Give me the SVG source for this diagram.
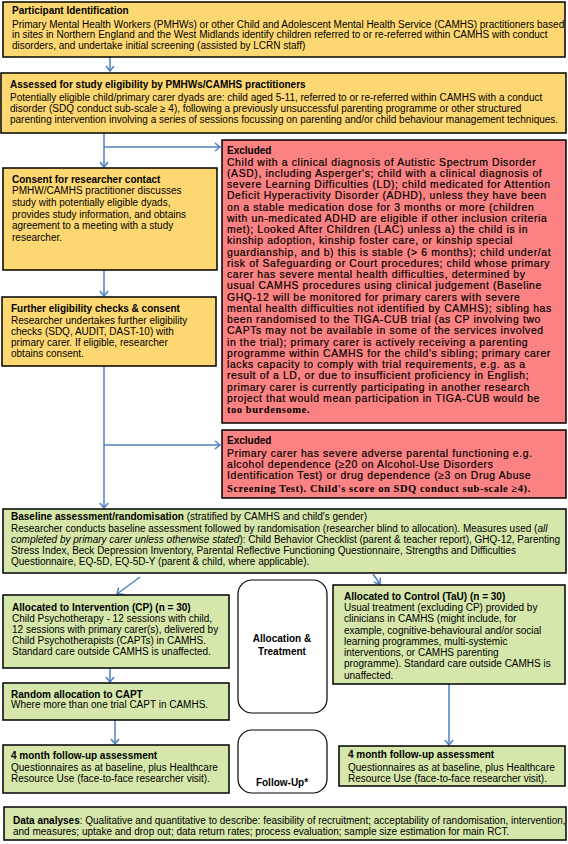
<svg xmlns="http://www.w3.org/2000/svg" width="568" height="844" viewBox="0 0 568 844">
<defs>
<style>
.y{fill:#FDD872;stroke:#000;stroke-width:1.5}
.r{fill:#FA8282;stroke:#000;stroke-width:1.5}
.g{fill:#D5E7AA;stroke:#000;stroke-width:1.5}
.w{fill:#fff;stroke:#000;stroke-width:1.2}
text{font-family:"Liberation Sans",Arial,sans-serif;font-size:10px;fill:#000}
.b{font-weight:bold}
.ex{font-size:10.4px;letter-spacing:0.62px;stroke:#000;stroke-width:0.2}
.sf{font-family:"Liberation Serif","Times New Roman",serif;font-weight:bold;font-size:10.5px;letter-spacing:0.55px}
.c{stroke:#4F81BD;stroke-width:1.5;fill:none}
</style>
<marker id="ah" markerUnits="userSpaceOnUse" markerWidth="10" markerHeight="10" refX="6" refY="5" orient="auto">
<path d="M1,1 L6,5 L1,9" fill="none" stroke="#4F81BD" stroke-width="1.5"/>
</marker>
</defs>

<g id="connectors">
<line class="c" x1="110" y1="57" x2="110" y2="71" marker-end="url(#ah)"/>
<line class="c" x1="104" y1="133" x2="104" y2="167" marker-end="url(#ah)"/>
<line class="c" x1="104" y1="147" x2="220" y2="147" marker-end="url(#ah)"/>
<line class="c" x1="104" y1="270" x2="104" y2="296" marker-end="url(#ah)"/>
<line class="c" x1="104" y1="366" x2="104" y2="508" marker-end="url(#ah)"/>
<line class="c" x1="104" y1="445" x2="220" y2="445" marker-end="url(#ah)"/>
<line class="c" x1="140" y1="577" x2="117" y2="594" marker-end="url(#ah)"/>
<line class="c" x1="373" y1="574" x2="380" y2="584" marker-end="url(#ah)"/>
<line class="c" x1="110" y1="668" x2="110" y2="682" marker-end="url(#ah)"/>
<line class="c" x1="115" y1="720" x2="115" y2="744" marker-end="url(#ah)"/>
<line class="c" x1="449" y1="684" x2="449" y2="745" marker-end="url(#ah)"/>
</g>

<g id="participant-identification">
<rect class="y" x="3" y="2" width="562" height="55"/>
<text x="12" y="14.3" class="b">Participant Identification</text>
<text x="12" y="27.6">Primary Mental Health Workers (PMHWs) or other Child and Adolescent Mental Health Service (CAMHS) practitioners based</text>
<text x="12" y="38.3">in sites in Northern England and the West Midlands identify children referred to or re-referred within CAMHS with conduct</text>
<text x="12" y="49">disorders, and undertake initial screening (assisted by LCRN staff)</text>
</g>

<g id="assessed-eligibility">
<rect class="y" x="1" y="73" width="565" height="60"/>
<text x="10" y="87.6" class="b">Assessed for study eligibility by PMHWs/CAMHS practitioners</text>
<text x="10" y="101">Potentially eligible child/primary carer dyads are: child aged 5-11, referred to or re-referred within CAMHS with a conduct</text>
<text x="10" y="112">disorder (SDQ conduct sub-scale ≥ 4), following a previously unsuccessful parenting programme or other structured</text>
<text x="10" y="123">parenting intervention involving a series of sessions focussing on parenting and/or child behaviour management  techniques.</text>
</g>

<g id="consent">
<rect class="y" x="3" y="168" width="214" height="102"/>
<text x="12" y="182.6" class="b">Consent for researcher contact</text>
<text x="12" y="194.4">PMHW/CAMHS practitioner discusses</text>
<text x="12" y="206">study with potentially eligible dyads,</text>
<text x="12" y="217.6">provides study information, and obtains</text>
<text x="12" y="229.2">agreement to a meeting with a study</text>
<text x="12" y="240.8">researcher.</text>
</g>

<g id="further-eligibility">
<rect class="y" x="2" y="297" width="214" height="69"/>
<text x="11" y="311.6" class="b">Further eligibility checks &amp; consent</text>
<text x="11" y="323.6">Researcher undertakes further eligibility</text>
<text x="11" y="334.6">checks (SDQ, AUDIT, DAST-10) with</text>
<text x="11" y="345.6">primary carer. If eligible, researcher</text>
<text x="11" y="356.6">obtains consent.</text>
</g>

<g id="excluded-1">
<rect class="r" x="222" y="140" width="344" height="283"/>
<text x="227" y="154.3" class="b">Excluded</text>
<text class="ex" x="227" y="165.5">Child with a clinical diagnosis of Autistic Spectrum Disorder</text>
<text class="ex" x="227" y="176.8">(ASD), including Asperger's; child with a clinical diagnosis of</text>
<text class="ex" x="227" y="188">severe Learning Difficulties (LD); child medicated for Attention</text>
<text class="ex" x="227" y="199.3">Deficit Hyperactivity Disorder (ADHD), unless they have been</text>
<text class="ex" x="227" y="210.5">on a stable medication dose for 3 months or more (children</text>
<text class="ex" x="227" y="221.8">with un-medicated ADHD are eligible if other inclusion criteria</text>
<text class="ex" x="227" y="233">met); Looked After Children (LAC) unless a) the child is in</text>
<text class="ex" x="227" y="244.3">kinship adoption, kinship foster care, or kinship special</text>
<text class="ex" x="227" y="255.5">guardianship, and b) this is stable (&gt; 6 months); child under/at</text>
<text class="ex" x="227" y="266.8">risk of Safeguarding or Court procedures; child whose primary</text>
<text class="ex" x="227" y="278">carer has severe mental health difficulties, determined by</text>
<text class="ex" x="227" y="289.3">usual CAMHS procedures using clinical judgement (Baseline</text>
<text class="ex" x="227" y="300.5">GHQ-12 will be monitored for primary carers with severe</text>
<text class="ex" x="227" y="311.8">mental health difficulties not identified by CAMHS); sibling has</text>
<text class="ex" x="227" y="323">been randomised to the TIGA-CUB trial (as CP involving two</text>
<text class="ex" x="227" y="334.3">CAPTs may not be available in some of the services involved</text>
<text class="ex" x="227" y="345.5">in the trial); primary carer is actively receiving a parenting</text>
<text class="ex" x="227" y="356.8">programme within CAMHS for the child's sibling; primary carer</text>
<text class="ex" x="227" y="368">lacks capacity to comply with trial requirements, e.g. as a</text>
<text class="ex" x="227" y="379.3">result of a LD, or due to insufficient proficiency in English;</text>
<text class="ex" x="227" y="390.5">primary carer is currently participating in another research</text>
<text class="ex" x="227" y="401.8">project that would mean participation in TIGA-CUB would be</text>
<text class="sf" x="227" y="413">too burdensome.</text>
</g>

<g id="excluded-2">
<rect class="r" x="222" y="430" width="344" height="68"/>
<text x="227" y="444.3" class="b">Excluded</text>
<text class="ex" x="227" y="456.6">Primary carer has severe adverse parental functioning e.g.</text>
<text class="ex" x="227" y="467.8">alcohol dependence (≥20 on Alcohol-Use Disorders</text>
<text class="ex" x="227" y="479.3">Identification Test) or drug dependence (≥3 on Drug Abuse</text>
<text class="sf" x="227" y="491.6">Screening Test). Child's score on SDQ conduct sub-scale ≥4).</text>
</g>

<g id="baseline">
<rect class="g" x="3" y="509" width="563" height="64"/>
<text x="11" y="520.3"><tspan class="b">Baseline assessment/randomisation</tspan> (stratified by CAMHS and child's gender)</text>
<text x="11" y="531.6">Researcher conducts baseline assessment followed by randomisation (researcher blind to allocation). Measures used (<tspan font-style="italic">all</tspan></text>
<text x="11" y="543"><tspan font-style="italic">completed by primary carer unless otherwise stated</tspan>): Child Behavior Checklist (parent &amp; teacher report), GHQ-12, Parenting</text>
<text x="11" y="554.3">Stress Index, Beck Depression Inventory, Parental Reflective Functioning Questionnaire, Strengths and Difficulties</text>
<text x="11" y="565.3">Questionnaire, EQ-5D, EQ-5D-Y (parent &amp; child, where applicable).</text>
</g>

<g id="allocated-cp">
<rect class="g" x="3" y="595" width="226" height="73"/>
<text x="12" y="610.6" class="b">Allocated to Intervention (CP) (n = 30)</text>
<text x="12" y="621.6">Child Psychotherapy - 12 sessions with child,</text>
<text x="12" y="632.6">12 sessions with primary carer(s), delivered by</text>
<text x="12" y="643.6">Child Psychotherapists (CAPTs) in CAMHS.</text>
<text x="12" y="654.6">Standard care outside CAMHS is unaffected.</text>
</g>

<g id="allocation-treatment">
<rect class="w" x="238" y="580" width="89" height="133" rx="14"/>
<text x="282" y="641.6" class="b" text-anchor="middle">Allocation &amp;</text>
<text x="282" y="654.6" class="b" text-anchor="middle">Treatment</text>
</g>

<g id="allocated-control">
<rect class="g" x="333" y="585" width="232" height="99"/>
<text x="344" y="599.6" class="b">Allocated to Control (TaU) (n = 30)</text>
<text x="344" y="610.9">Usual treatment (excluding CP) provided by</text>
<text x="344" y="622.2">clinicians in CAMHS (might include, for</text>
<text x="344" y="633.5">example, cognitive-behavioural and/or social</text>
<text x="344" y="644.8">learning programmes, multi-systemic</text>
<text x="344" y="656.1">interventions, or CAMHS parenting</text>
<text x="344" y="667.4">programme). Standard care outside CAMHS is</text>
<text x="344" y="678.7">unaffected.</text>
</g>

<g id="random-allocation">
<rect class="g" x="3" y="683" width="226" height="37"/>
<text x="11" y="697.6" class="b">Random allocation to CAPT</text>
<text x="11" y="708">Where more than one trial CAPT in CAMHS.</text>
</g>

<g id="followup-cp">
<rect class="g" x="3" y="745" width="226" height="48"/>
<text x="11" y="758.6" class="b">4 month follow-up assessment</text>
<text x="11" y="770.6">Questionnaires as at baseline, plus Healthcare</text>
<text x="11" y="781.6">Resource Use (face-to-face researcher visit).</text>
</g>

<g id="followup-label">
<rect class="w" x="238" y="730" width="89" height="63" rx="14"/>
<text x="282" y="785.6" class="b" text-anchor="middle">Follow-Up*</text>
</g>

<g id="followup-control">
<rect class="g" x="339" y="746" width="226" height="40"/>
<text x="348" y="758" class="b">4 month follow-up assessment</text>
<text x="348" y="770.6">Questionnaires as at baseline, plus Healthcare</text>
<text x="348" y="781.6">Resource Use (face-to-face researcher visit).</text>
</g>

<g id="data-analyses">
<rect class="g" x="4" y="807" width="562" height="33"/>
<text x="13" y="823.6"><tspan class="b">Data analyses</tspan>: Qualitative and quantitative to describe: feasibility of recruitment; acceptability of randomisation, intervention,</text>
<text x="13" y="834.6">and measures; uptake and drop out; data return rates; process evaluation; sample size estimation for main RCT.</text>
</g>
</svg>
